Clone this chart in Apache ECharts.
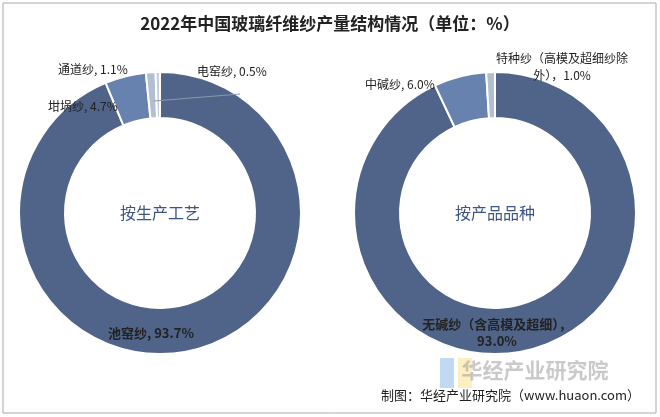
<!DOCTYPE html>
<html>
<head>
<meta charset="utf-8">
<script src="https://cdn.jsdelivr.net/npm/echarts@6/dist/echarts.min.js"></script>
<style>
    html, body {margin: 0; padding: 0; background: #fff;}
    #main {width: 660px; height: 417px;}
</style>
</head>
<body>
<div id="main"></div>
<script>
    var processNames = ['池窑纱', '坩埚纱', '通道纱', '电窑纱'];
    var processValues = [93.7, 4.7, 1.1, 0.5];
    var productNames = ['无碱纱（含高模及超细）', '中碱纱', '特种纱（高模及超细纱除外）'];
    var productValues = [93.0, 6.0, 1.0];

    var colors = ['#4f6488', '#6782ae', '#b3bfd1', '#c5cede'];
    var font = '"Noto Sans CJK SC", sans-serif';

    // fixed label spots, as in the picture
    var leftSpots = [[108, 333, 'left'], [48, 106, 'left'], [58, 69, 'left'], [197, 71, 'left']];
    var rightSpots = [[497, 333, 'center'], [365, 84, 'left'], [562, 67, 'center']];

    function ring(names, values, cx, spots) {
        return {
            type: 'pie',
            center: [cx, 213],
            radius: [95, 141],
            startAngle: 90,
            clockwise: true,
            silent: true,
            itemStyle: {borderColor: '#fff', borderWidth: 2},
            emphasis: {disabled: true},
            label: {
                show: true, color: '#222', fontFamily: font, fontSize: 12, lineHeight: 17,
                overflow: 'none', width: 300,
                formatter: function (p) { return p.name + ', ' + p.value.toFixed(1) + '%'; }
            },
            labelLine: {show: false},
            labelLayout: function (p) {
                var s = spots[p.dataIndex];
                return {x: s[0], y: s[1], align: s[2], verticalAlign: 'middle', hideOverlap: false};
            },
            data: names.map(function (n, i) {
                return {name: n, value: values[i], itemStyle: {color: colors[i]}};
            })
        };
    }

    var chart = echarts.init(document.getElementById('main'));
    var left = ring(processNames, processValues, 160, leftSpots);
    left.data[0].label = {fontWeight: 'bold', fontSize: 13};
    var right = ring(productNames, productValues, 495, rightSpots);
    right.data[0].label = {
        fontWeight: 'bold', fontSize: 13, align: 'center',
        formatter: function (p) { return p.name + '，\n' + p.value.toFixed(1) + '%'; }
    };
    right.data[2].label = {
        align: 'center',
        formatter: function () { return '特种纱（高模及超细纱除\n外），1.0%'; }
    };

    chart.setOption({
        animation: false,
        title: {
            text: '2022年中国玻璃纤维纱产量结构情况（单位：%）',
            left: 'center', top: 10,
            textStyle: {fontFamily: font, fontSize: 17, fontWeight: 'bold', color: '#222'}
        },
        graphic: [
            {type: 'rect', shape: {x: 3, y: 3, width: 653, height: 410}, style: {fill: 'none', stroke: '#aaa', lineWidth: 1}},
            {type: 'line', z: 100, shape: {x1: 154, y1: 101, x2: 240, y2: 94}, style: {stroke: '#8899aa', lineWidth: 1}},
            {type: 'text', x: 160, y: 213, style: {text: '按生产工艺', fontFamily: font, fontSize: 16, fill: '#3d5585', align: 'center', verticalAlign: 'middle'}},
            {type: 'text', x: 495, y: 213, style: {text: '按产品品种', fontFamily: font, fontSize: 16, fill: '#3d5585', align: 'center', verticalAlign: 'middle'}},
            {type: 'rect', shape: {x: 440, y: 358, width: 14, height: 30}, style: {fill: 'rgba(120,170,230,0.45)'}},
            {type: 'rect', shape: {x: 458, y: 358, width: 14, height: 30}, style: {fill: 'rgba(250,220,120,0.45)'}},
            {type: 'text', x: 535, y: 370, style: {text: '华经产业研究院', fontFamily: font, fontSize: 21, fontWeight: 'bold', fill: 'rgba(150,150,150,0.5)', align: 'center', verticalAlign: 'middle'}},
            {type: 'text', x: 640, y: 395, style: {text: '制图：华经产业研究院（www.huaon.com）', fontFamily: font, fontSize: 13, fill: '#222', align: 'right', verticalAlign: 'middle'}}
        ],
        series: [left, right]
    });
</script>
</body>
</html>
